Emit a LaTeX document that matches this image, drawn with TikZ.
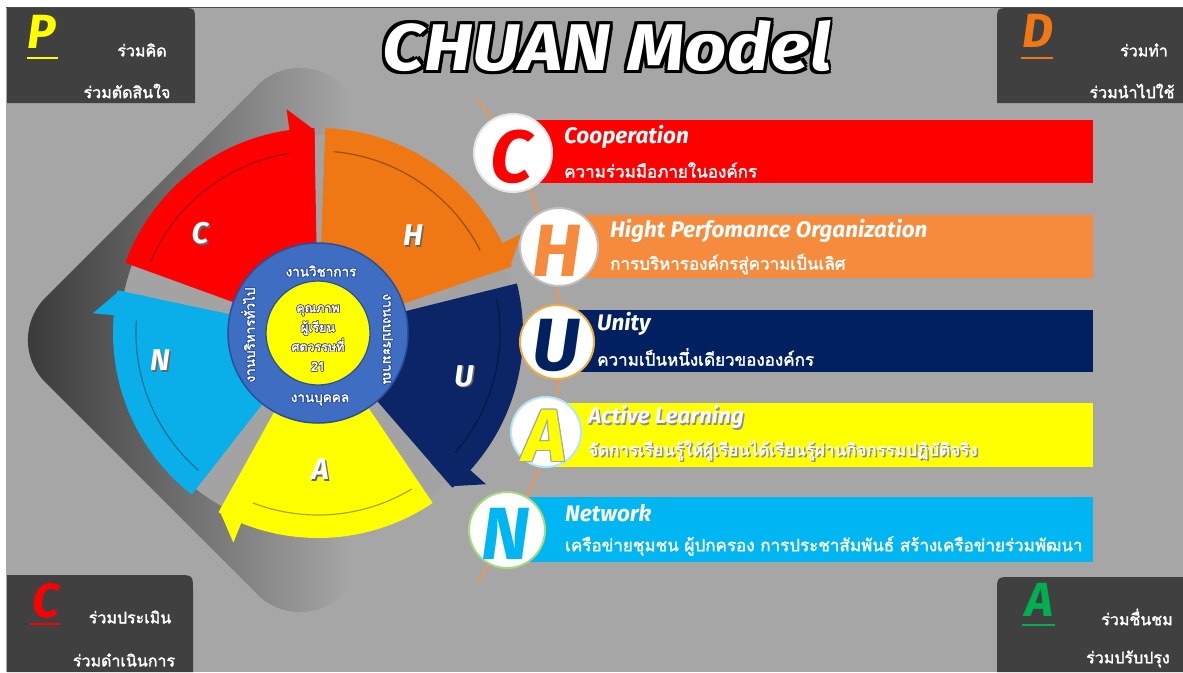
\documentclass[tikz,border=0pt]{standalone}
\usepackage{fontspec}
\newfontfamily\thai[Script=Thai, FakeBold=2]{Loma}
\newfontfamily\disp{Fira Sans}
\usetikzlibrary{calc}
\definecolor{bg}{HTML}{A6A6A6}
\definecolor{dk}{HTML}{383838}
\definecolor{boxdk}{HTML}{404040}
\definecolor{gapgray}{HTML}{A3A3A3}
\definecolor{wred}{HTML}{FF0000}
\definecolor{word}{HTML}{F07814}
\definecolor{bord}{HTML}{F68B3D}
\definecolor{wnavy}{HTML}{0B2566}
\definecolor{bnavy}{HTML}{002060}
\definecolor{wyel}{HTML}{FFFF00}
\definecolor{wcyan}{HTML}{0AAFEA}
\definecolor{bcyan}{HTML}{00B6F2}
\definecolor{ringblue}{HTML}{3F6DC2}
\definecolor{ringdk}{HTML}{2A4F9A}
\definecolor{cgreen}{HTML}{00B050}
\definecolor{arcor}{HTML}{E8965A}
\newcommand{\olt}[3]{%
\makebox[0pt][l]{\color{#1}\kern-#2\relax#3}%
\makebox[0pt][l]{\color{#1}\kern#2\relax#3}%
\makebox[0pt][l]{\color{#1}\raisebox{#2}{#3}}%
\makebox[0pt][l]{\color{#1}\raisebox{-#2}{#3}}%
\makebox[0pt][l]{\color{#1}\kern-#2\relax\raisebox{#2}{#3}}%
\makebox[0pt][l]{\color{#1}\kern#2\relax\raisebox{#2}{#3}}%
\makebox[0pt][l]{\color{#1}\kern-#2\relax\raisebox{-#2}{#3}}%
\makebox[0pt][l]{\color{#1}\kern#2\relax\raisebox{-#2}{#3}}%
#3}
\newcommand{\shd}[2]{\makebox[0pt][l]{\color{#1}\kern1.5pt\raisebox{-1.5pt}{#2}}#2}
\tikzset{
  corner/.style={fill=boxdk},
  bigl/.style={font=\disp\bfseries\itshape\fontsize{48}{48}\selectfont, inner sep=0},
  cth/.style={font=\thai\fontsize{16}{18}\selectfont, text=white, inner sep=0},
  wlet/.style={font=\disp\bfseries\itshape\fontsize{30}{30}\selectfont, text=white, inner sep=0},
  bcirc/.style={circle, fill=white, line width=2pt, minimum size=78pt, inner sep=0},
  clet/.style={font=\disp\bfseries\itshape\fontsize{74}{74}\selectfont, inner sep=0},
  bhead/.style={anchor=west, font=\disp\bfseries\itshape\fontsize{22.5}{24}\selectfont, text=white, inner sep=0},
  bsub/.style={anchor=west, font=\thai\fontsize{17}{18}\selectfont, text=white, inner sep=0},
  ringt/.style={font=\thai\fontsize{13.5}{15}\selectfont, text=white, inner sep=0},
}
\begin{document}
\begin{tikzpicture}[x=1pt,y=-1pt]
\useasboundingbox (0,0) rectangle (1183,672);
\fill[white] (0,0) rectangle (1183,672);
\fill[bg] (6,7) rectangle (1183,672);
\draw[line width=1.5pt, black!70] (6,7.5) -- (1183,7.5);

% dark diamond behind wheel
\begin{scope}
\clip[rotate around={45:(300,340)}, rounded corners=60] (90,130) rectangle (510,550);
\shade[left color=dk, middle color=dk!72!bg, right color=bg] (20,40) rectangle (350,650);
\end{scope}

% corner boxes
\fill[corner] (7,8) -- (181,8) .. controls (195,8) .. (195,22) -- (195,103) -- (7,103) -- cycle;
\fill[corner] (1183,8) -- (1011,8) .. controls (997,8) .. (997,22) -- (997,103) -- (1183,103) -- cycle;
\fill[corner] (7,672) -- (7,575) -- (177,575) .. controls (193,575) .. (193,591) -- (193,672) -- cycle;
\fill[corner] (1183,577) -- (1012,577) .. controls (997,577) .. (997,592) -- (997,672) -- (1183,672) -- cycle;

\node[bigl, text=wyel] (P) at (42,32) {P};
\draw[wyel, line width=2pt] (27,57.5) -- (58,57.5);
\node[cth] (p1) at (142,50) {ร่วมคิด};
\node[cth] (p2) at (127,91) {ร่วมตัดสินใจ};

\node[bigl, text=word] (D) at (1038,31) {D};
\draw[word, line width=2pt] (1021,57.5) -- (1053,57.5);
\node[cth] (d1) at (1144,50) {ร่วมทำ};
\node[cth] (d2) at (1132,91) {ร่วมนำไปใช้};

\node[bigl, text=wred] (Cc) at (46,601) {C};
\draw[wred, line width=2pt] (30,624) -- (60,624);
\node[cth] (c1) at (130,617) {ร่วมประเมิน};
\node[cth] (c2) at (124,660) {ร่วมดำเนินการ};

\node[bigl, text=cgreen] (Aa) at (1039,600) {A};
\draw[cgreen, line width=2pt] (1022,625) -- (1055,625);
\node[cth] (a1) at (1137,617) {ร่วมชื่นชม};
\node[cth] (a2) at (1128,659) {ร่วมปรับปรุง};

% title
\node[font=\disp\bfseries\itshape\fontsize{66}{70}\selectfont, text=white, inner sep=0] (title) at (607,46)
  {\scalebox{1.12}[1]{\olt{black}{2.6pt}{CHUAN Model}}};

% wheel
\fill[gapgray] (318,333) circle[radius=198];
\begin{scope}[shift={(318,333)}]
\foreach \a/\b/\c in {200/269/wred, 272/341/word, 346/409/wnavy, 56/119/wyel, 128/192/wcyan} {
  \fill[\c] (\a:60) -- plot[domain=\a:\b, samples=40] (\x:205) -- (\b:60) -- cycle;
  \fill[\c] (\b-7:172) -- (\b-7:226) -- (\b:203) -- (\b:172) -- cycle;
  \draw[\c!65!black, line width=1.2pt] plot[domain=\a+3:\b-8, samples=40] (\x:182);
}
\end{scope}
\node[wlet] (wC) at (200,234) {\shd{black!60}{C}};
\node[wlet] (wH) at (413,236) {\shd{black!60}{H}};
\node[wlet] (wU) at (464,377) {\shd{black!60}{U}};
\node[wlet] (wA) at (320,470) {\shd{black!60}{A}};
\node[wlet] (wN) at (160,361) {\shd{black!60}{N}};

% ring
\node[circle, fill=ringblue, draw=ringdk, line width=1.5pt, minimum size=180pt, inner sep=0] (ring) at (318,333) {};
\node[circle, fill=wyel, draw=ringdk, line width=1.2pt, minimum size=104pt, inner sep=0] (core) at (318,333) {};
\node[ringt] (r1) at (321,271) {\olt{ringdk}{0.7pt}{งานวิชาการ}};
\node[ringt, rotate=-90] (r2) at (388,339) {\olt{ringdk}{0.7pt}{งานงบประมาณ}};
\node[ringt] (r3) at (320,400) {\olt{ringdk}{0.7pt}{งานบุคคล}};
\node[ringt, rotate=90] (r4) at (248,335) {\olt{ringdk}{0.7pt}{งานบริหารทั่วไป}};
\node[align=center, font=\thai\fontsize{12.5}{19.5}\selectfont, text=white, inner sep=0] (ctext) at (318,338)
  {\olt{black!70}{0.6pt}{คุณภาพ}\\\olt{black!70}{0.6pt}{ผู้เรียน}\\\olt{black!70}{0.6pt}{ศตวรรษที่}\\\olt{black!70}{0.6pt}{21}};

% bars
\fill[wred] (513,120) rectangle (1093,183);
\fill[bord] (559,215) rectangle (1093,278);
\fill[bnavy] (557,310) rectangle (1093,372);
\fill[wyel] (547,403) rectangle (1093,467);
\fill[bcyan] (508,497) rectangle (1093,562);

% orange connecting arc
\draw[arcor, line width=2pt] plot[domain=-38:38, samples=60] ({168+392*cos(\x)},{340+392*sin(\x)});

% circles
\node[bcirc, draw=black!10] (cC) at (513,153) {};
\node[bcirc, draw=black!25] (cH) at (559,247) {};
\node[bcirc, draw=arcor!80!yellow, minimum size=74pt] (cU) at (557,342) {};
\node[bcirc, draw=cyan!30, minimum size=70pt] (cA) at (546,432) {};
\node[bcirc, draw=green!40!olive!50, minimum size=76pt] (cN) at (507,530) {};
\node[clet, text=wred] (lC) at (511,157) {C};
\node[clet, text=bord] (lH) at (557,251) {H};
\node[clet, text=bnavy] (lU) at (556,345) {U};
\node[clet, text=wyel] (lA) at (545,436) {\olt{black!35}{0.7pt}{A}};
\node[clet, text=bcyan] (lN) at (506,534) {N};

% bar texts
\node[bhead] (hC) at (564,137) {Cooperation};
\node[bsub] (sC) at (564,170) {ความร่วมมือภายในองค์กร};
\node[bhead] (hH) at (610,231) {Hight Perfomance Organization};
\node[bsub] (sH) at (610,264) {การบริหารองค์กรสู่ความเป็นเลิศ};
\node[bhead] (hU) at (597,324) {Unity};
\node[bsub] (sU) at (597,357) {ความเป็นหนึ่งเดียวขององค์กร};
\node[bhead] (hA) at (588,418) {\shd{black!45}{Active Learning}};
\node[bsub] (sA) at (588,451) {\shd{black!45}{จัดการเรียนรู้ให้ผู้เรียนได้เรียนรู้ผ่านกิจกรรมปฏิบัติจริง}};
\node[bhead] (hN) at (565,513) {Network};
\node[bsub] (sN) at (565,546) {เครือข่ายชุมชน ผู้ปกครอง การประชาสัมพันธ์ สร้างเครือข่ายร่วมพัฒนา};
\end{tikzpicture}
\end{document}
